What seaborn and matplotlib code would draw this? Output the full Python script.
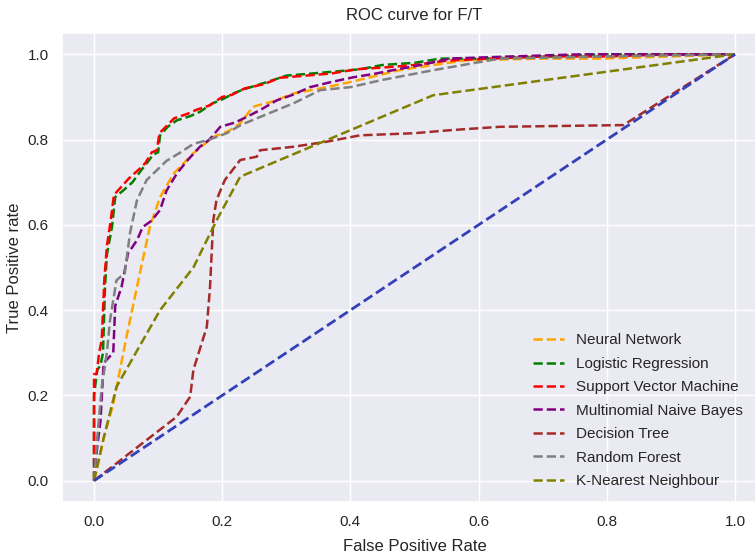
import pandas as pd
import matplotlib
matplotlib.use('Agg')
import matplotlib.pyplot as plt
import seaborn as sns

# ROC points (false positive rate, true positive rate) per model
nn_fpr = [0, 0.008, 0.015, 0.03, 0.051, 0.072, 0.087, 0.103, 0.124, 0.155, 0.186, 0.21, 0.228, 0.248, 0.28, 0.311, 0.363, 0.40, 0.477, 0.53, 0.58, 0.70, 0.79, 0.9, 1.0]
nn_tpr = [0, 0.05, 0.10, 0.18, 0.34, 0.49, 0.595, 0.665, 0.72, 0.768, 0.806, 0.82, 0.838, 0.877, 0.89, 0.908, 0.923, 0.935, 0.963, 0.975, 0.986, 0.99, 0.99, 0.995, 1.0]

lr_fpr = [0, 0, 0.005, 0.01, 0.014, 0.017, 0.02, 0.028, 0.033, 0.045, 0.06, 0.072, 0.085, 0.092, 0.10, 0.103, 0.115, 0.129, 0.15, 0.165, 0.185, 0.201, 0.22, 0.238, 0.27, 0.30, 0.34, 0.379, 0.415, 0.45, 0.5, 0.54, 0.6, 0.7, 0.8, 0.9, 1.0]
lr_tpr = [0, 0.20, 0.26, 0.27, 0.30, 0.45, 0.53, 0.595, 0.665, 0.68, 0.70, 0.725, 0.75, 0.765, 0.77, 0.81, 0.83, 0.845, 0.855, 0.865, 0.885, 0.895, 0.91, 0.92, 0.935, 0.95, 0.955, 0.96, 0.965, 0.975, 0.98, 0.99, 0.99, 0.995, 1.0, 1.0, 1.0]

svm_fpr = [0, 0, 0.004, 0.008, 0.012, 0.016, 0.02, 0.026, 0.031, 0.04, 0.055, 0.07, 0.08, 0.09, 0.098, 0.102, 0.112, 0.125, 0.145, 0.16, 0.18, 0.2, 0.215, 0.235, 0.265, 0.29, 0.33, 0.37, 0.41, 0.46, 0.5, 0.55, 0.62, 0.7, 0.8, 0.9, 1.0]
svm_tpr = [0, 0.25, 0.25, 0.30, 0.33, 0.47, 0.55, 0.61, 0.67, 0.685, 0.71, 0.73, 0.745, 0.77, 0.775, 0.815, 0.83, 0.85, 0.86, 0.87, 0.88, 0.9, 0.905, 0.92, 0.93, 0.945, 0.95, 0.955, 0.965, 0.97, 0.975, 0.985, 0.99, 0.995, 0.995, 1.0, 1.0]

mnb_fpr = [0, 0.005, 0.01, 0.015, 0.03, 0.033, 0.043, 0.053, 0.067, 0.076, 0.09, 0.103, 0.113, 0.129, 0.145, 0.165, 0.18, 0.197, 0.22, 0.238, 0.26, 0.285, 0.31, 0.337, 0.37, 0.404, 0.44, 0.467, 0.51, 0.555, 0.65, 0.76, 0.85, 1.0]
mnb_tpr = [0, 0.08, 0.14, 0.276, 0.30, 0.41, 0.455, 0.533, 0.564, 0.595, 0.61, 0.635, 0.68, 0.72, 0.75, 0.783, 0.80, 0.83, 0.84, 0.853, 0.87, 0.892, 0.905, 0.923, 0.935, 0.946, 0.955, 0.963, 0.975, 0.99, 0.995, 1.0, 1.0, 1.0]

dt_fpr = [0, 0.129, 0.15, 0.155, 0.176, 0.181, 0.186, 0.191, 0.204, 0.228, 0.254, 0.259, 0.31, 0.363, 0.415, 0.50, 0.555, 0.633, 0.826, 1.0]
dt_tpr = [0, 0.15, 0.197, 0.26, 0.361, 0.455, 0.61, 0.658, 0.705, 0.752, 0.76, 0.775, 0.783, 0.795, 0.81, 0.815, 0.822, 0.83, 0.834, 1.0]

rf_fpr = [0, 0.005, 0.012, 0.02, 0.025, 0.035, 0.048, 0.056, 0.067, 0.082, 0.113, 0.135, 0.155, 0.18, 0.207, 0.23, 0.259, 0.311, 0.353, 0.40, 0.45, 0.53, 0.633, 0.8, 1.0]
rf_tpr = [0, 0.10, 0.22, 0.30, 0.377, 0.47, 0.487, 0.58, 0.658, 0.705, 0.75, 0.77, 0.79, 0.80, 0.815, 0.835, 0.853, 0.885, 0.916, 0.923, 0.94, 0.963, 0.99, 0.995, 1.0]

knn_fpr = [0, 0.015, 0.035, 0.103, 0.155, 0.191, 0.228, 0.529, 1.0]
knn_tpr = [0, 0.10, 0.22, 0.40, 0.50, 0.61, 0.713, 0.904, 1.0]

diag = [0, 1]

models = ['Neural Network', 'Logistic Regression', 'Support Vector Machine',
          'Multinomial Naive Bayes', 'Decision Tree', 'Random Forest', 'K-Nearest Neighbour']
curves = [(nn_fpr, nn_tpr), (lr_fpr, lr_tpr), (svm_fpr, svm_tpr), (mnb_fpr, mnb_tpr),
          (dt_fpr, dt_tpr), (rf_fpr, rf_tpr), (knn_fpr, knn_tpr)]
colors = ['orange', 'green', 'red', 'purple', 'brown', 'grey', 'olive']

sns.set_theme(style='darkgrid')
plt.rcParams['font.family'] = ['Liberation Sans', 'DejaVu Sans']

fig = plt.figure(figsize=(7.55, 5.55), dpi=100)
ax = fig.add_axes([62 / 755, 53 / 555, 705 / 755, 469 / 555])

for name, (fpr, tpr), col in zip(models, curves, colors):
    sns.lineplot(x=fpr, y=tpr, ax=ax, estimator=None, sort=False,
                 color=col, linestyle='--', linewidth=1.8, label=name)

# chance line
sns.lineplot(x=diag, y=diag, ax=ax, estimator=None, sort=False,
             color='#3440b8', linestyle='--', linewidth=2)

ax.set_xlim(-0.05, 1.05)
ax.set_ylim(-0.05, 1.05)
ax.set_xticks([0, 0.2, 0.4, 0.6, 0.8, 1.0])
ax.set_yticks([0, 0.2, 0.4, 0.6, 0.8, 1.0])
ax.set_title('ROC curve for F/T', fontsize=12, pad=9)
ax.set_xlabel('False Positive Rate', fontsize=12, labelpad=7)
ax.set_ylabel('True Positive rate', fontsize=12)
ax.tick_params(labelsize=11)
ax.legend(loc='lower right', frameon=False, fontsize=11, labelspacing=0.62,
          bbox_to_anchor=(0.985, 0.0))

fig.savefig('out.png', dpi=100)
